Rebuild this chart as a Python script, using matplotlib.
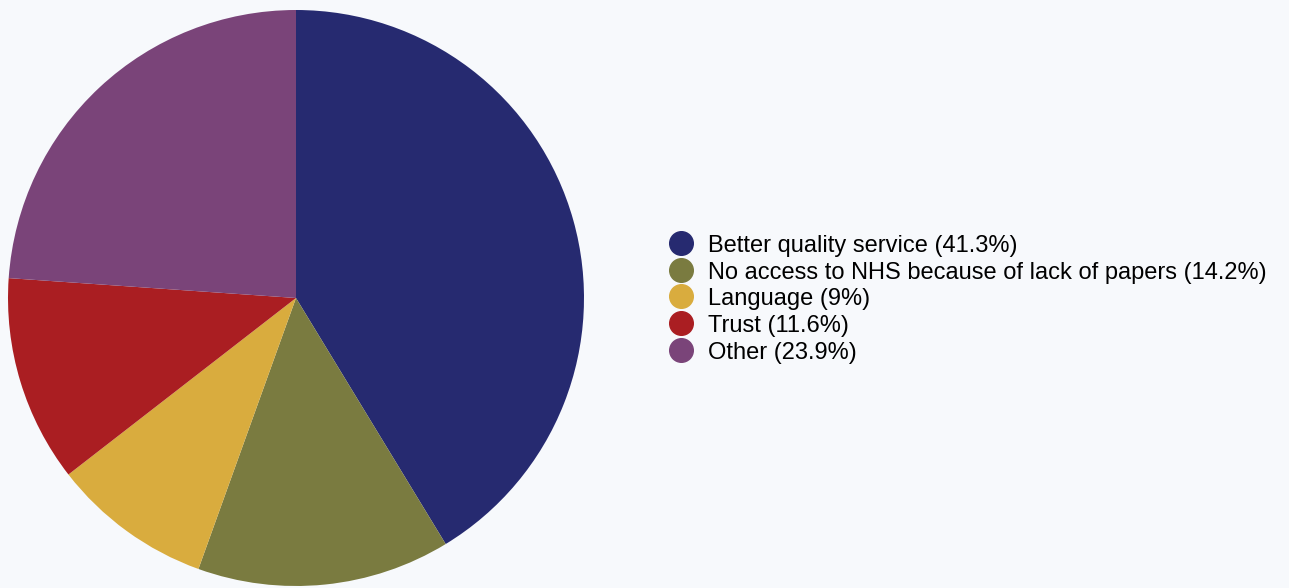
import matplotlib.pyplot as plt
from matplotlib.lines import Line2D

# datos del grafico
labels = ['Better quality service', 'No access to NHS because of lack of papers',
          'Language', 'Trust', 'Other']
pct = [41.3, 14.2, 9, 11.6, 23.9]
colors = ['#262a70', '#7a7b40', '#d9ac3e', '#aa1e22', '#7a4479']

plt.rcParams['font.family'] = ['Liberation Sans', 'DejaVu Sans']
bg = '#f7f9fc'

fig = plt.figure(figsize=(12.89, 5.88), dpi=100, facecolor=bg)
# ejes del pastel en pixeles: centro (296, 298), radio 288
ax = fig.add_axes([8/1289, 2/588, 576/1289, 576/588])
ax.set_facecolor(bg)
ax.pie(pct, colors=colors, startangle=90, counterclock=False,
       wedgeprops={'linewidth': 0})
ax.set_xlim(-1, 1)
ax.set_ylim(-1, 1)
ax.set_aspect('equal')
ax.axis('off')

handles = [Line2D([], [], marker='o', linestyle='', markersize=17,
                  markerfacecolor=c, markeredgecolor=c) for c in colors]
texts = [f'{l} ({p:g}%)' for l, p in zip(labels, pct)]
fig.legend(handles, texts, loc='upper left', bbox_to_anchor=(669/1289, 1 - 234/588),
           frameon=False, fontsize=17, handlelength=1.0, handletextpad=0.65,
           labelspacing=0.16, borderpad=0, borderaxespad=0, handleheight=0.9)

fig.savefig('out.png', dpi=100, facecolor=bg)
